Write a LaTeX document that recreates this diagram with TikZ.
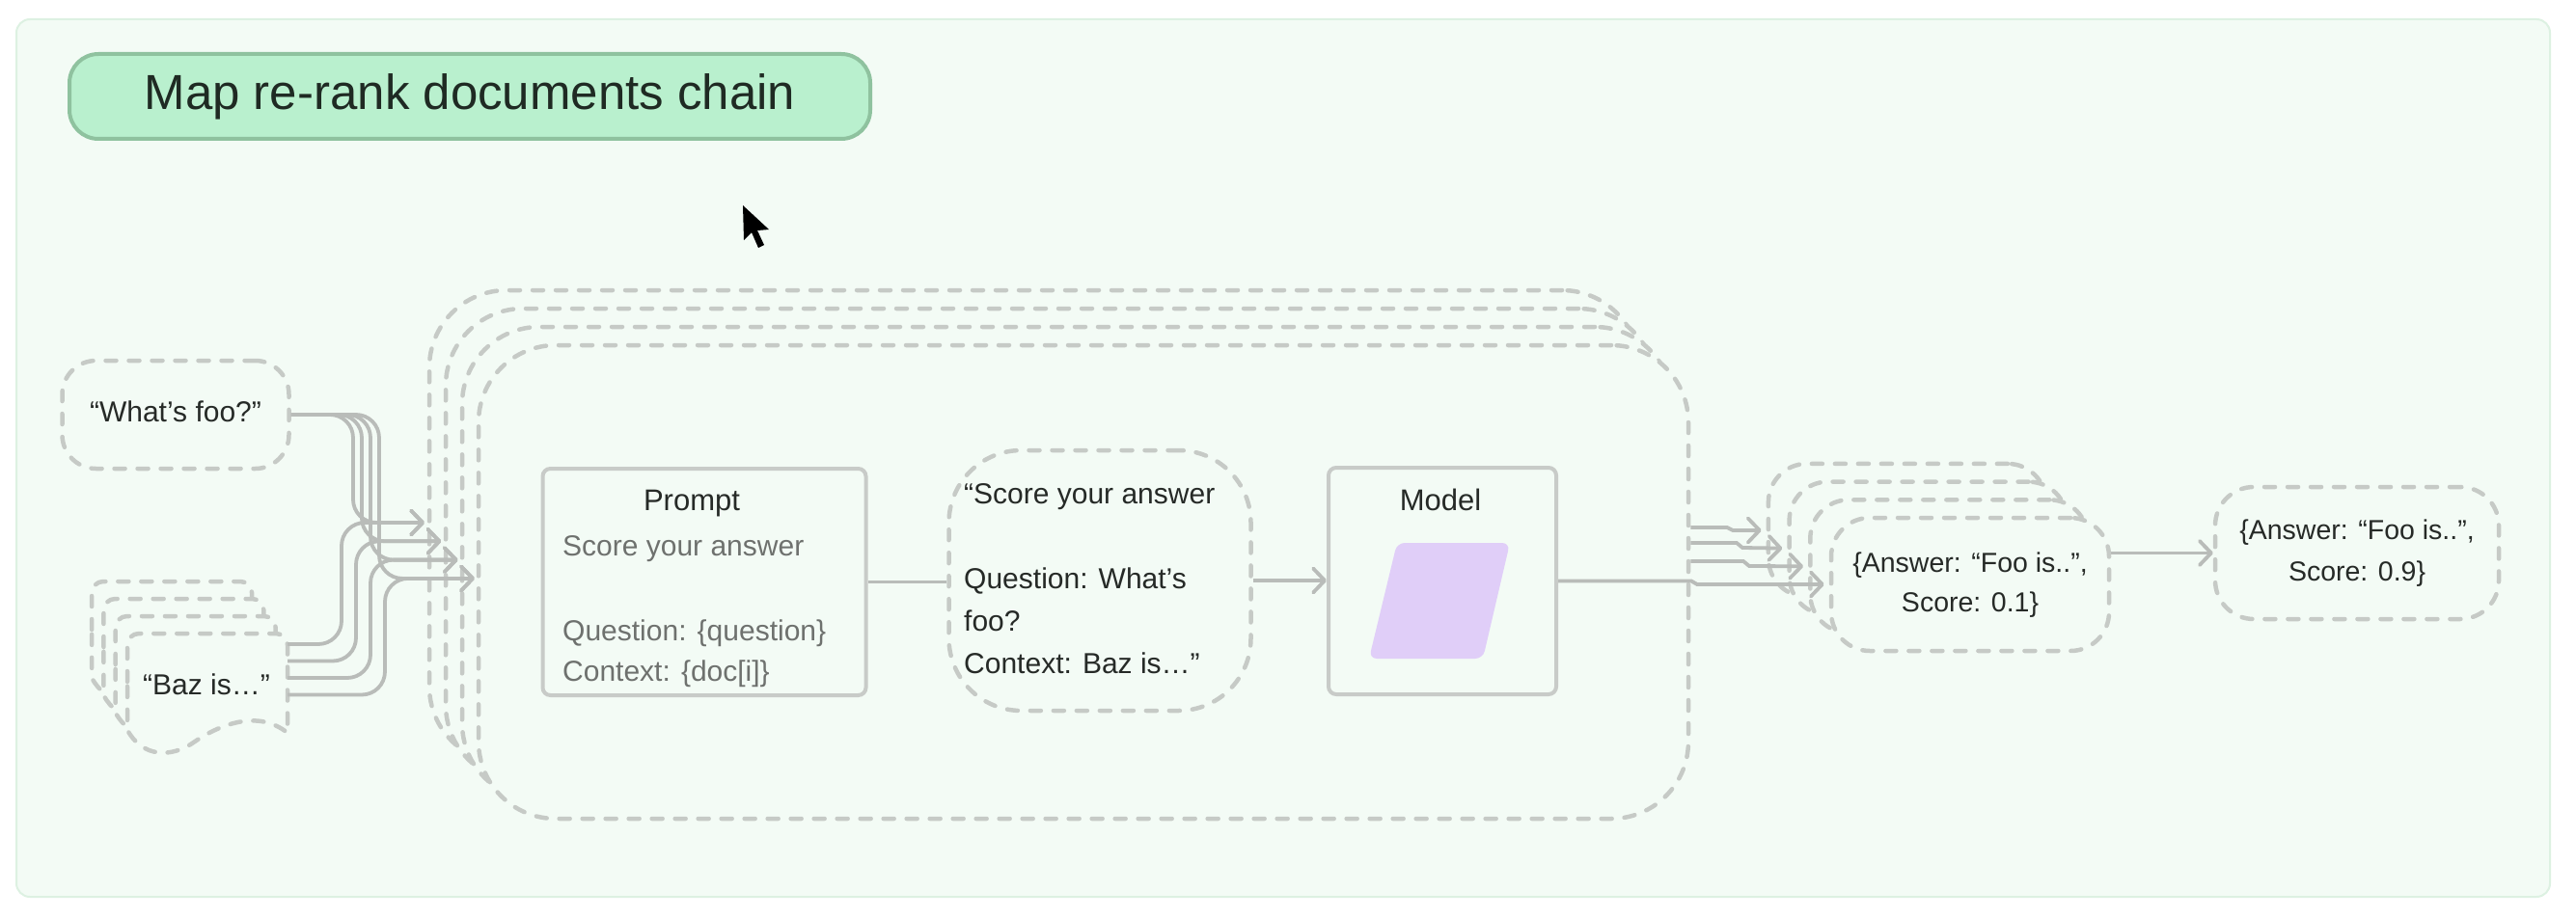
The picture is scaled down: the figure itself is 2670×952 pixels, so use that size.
\documentclass[tikz,border=0pt]{standalone}
\usepackage{fontspec}
\setmainfont{Liberation Sans}
\usetikzlibrary{arrows.meta,calc}
\definecolor{panelbg}{HTML}{F3FBF5}
\definecolor{panelbd}{HTML}{DDF1E2}
\definecolor{titlebg}{HTML}{B9F0CE}
\definecolor{titlebd}{HTML}{8FC29F}
\definecolor{titletx}{HTML}{1F2A23}
\definecolor{dashc}{HTML}{C6CAC6}
\definecolor{connc}{HTML}{B9BCB9}
\definecolor{boxc}{HTML}{C8CBC8}
\definecolor{txtdark}{HTML}{262A27}
\definecolor{txtgray}{HTML}{6E716E}
\definecolor{lav}{HTML}{E0CEF8}
\begin{document}
\begin{tikzpicture}[x=1pt,y=-1pt,
  dashbox/.style={draw=dashc, line width=4.5pt, dash pattern=on 11pt off 13pt, line cap=round, fill=panelbg, inner sep=0pt},
  solidbox/.style={draw=boxc, line width=4pt, rounded corners=8pt, fill=panelbg, inner sep=0pt},
  conn/.style={draw=connc, line width=3.8pt},
  arrowend/.style={-{Straight Barb[length=12pt,width=25pt,round]}},
  txt/.style={inner sep=0pt, text height=21pt, text depth=6pt, font=\fontsize{30pt}{36pt}\selectfont, text=txtdark},
]
\useasboundingbox (0,0) rectangle (2670,952);
\fill[white] (0,0) rectangle (2670,952);
\draw[fill=panelbg, draw=panelbd, line width=2pt, rounded corners=14pt] (17,20) rectangle (2643,930);

% title
\node[draw=titlebd, fill=titlebg, line width=4pt, rounded corners=30pt, minimum width=830pt, minimum height=88pt, inner sep=0pt,
      text=titletx, font=\fontsize{51pt}{58pt}\selectfont] (title) at (487,100) {Map re-rank documents chain};

% cursor
\fill[black] (770,213) -- (771,249) -- (779,241) -- (786,257) -- (792,254) -- (785,239) -- (797,238) -- cycle;

% loop cards
\foreach \k in {0,...,3}{
  \node[dashbox, minimum width=1254pt, minimum height=491pt, rounded corners=80pt] (L\k) at ({1123-17*(3-\k)},{603.5-19*(3-\k)}) {};
}

% prompt
\node[solidbox, minimum width=335pt, minimum height=235pt] (P) at (730,603.5) {};
\node[txt, font=\fontsize{31pt}{36pt}\selectfont] (ptitle) at (717,522) {Prompt};
\node[txt, anchor=west, text=txtgray] (p1) at (583,569) {Score your answer};
\node[txt, anchor=west, text=txtgray] (p2) at (583,657) {Question: \{question\}};
\node[txt, anchor=west, text=txtgray] (p3) at (583,699) {Context: \{doc[i]\}};

% filled prompt bubble
\node[dashbox, minimum width=313pt, minimum height=270pt, rounded corners=75pt] (S) at (1140,602) {};
\node[txt, anchor=west] (s1) at (999,515) {“Score your answer};
\node[txt, anchor=west] (s2) at (999,603) {Question: What’s};
\node[txt, anchor=west] (s3) at (999,647) {foo?};
\node[txt, anchor=west] (s4) at (999,691) {Context: Baz is…”};

% model
\node[solidbox, minimum width=236pt, minimum height=235pt] (M) at (1495,602.5) {};
\node[txt, font=\fontsize{31pt}{36pt}\selectfont] (mtitle) at (1493,522) {Model};
\fill[lav, rounded corners=8pt] (1506,563) -- (1565,563) -- (1537,683) -- (1419,683) -- (1448,563) -- cycle;

\draw[conn] (P.east) -- (P.east -| S.west);
\draw[conn, arrowend] (S.east) -- (S.east -| M.west);

% question box
\node[dashbox, minimum width=235pt, minimum height=112pt, rounded corners=35pt, txt] (Q) at (182,430) {“What’s foo?”};

% document stack
\foreach \j in {0,...,3}{
  \begin{scope}[shift={({132-12.3*(3-\j)},{657-18*(3-\j)})}]
    \path[dashbox, rounded corners=12pt] (0,50) -- (0,0) -- (166,0) -- (166,50) [sharp corners] -- (166,103)
       .. controls (135,78) and (95,95) .. (70,112) .. controls (45,130) and (15,128) .. (0,100) -- cycle;
  \end{scope}
}
\node[txt] (baz) at (214,713) {“Baz is…”};
\coordinate (bz) at (298,657);

% connectors into the loop
\foreach \k in {0,...,3}{
  \coordinate (T\k) at ({440+17.3*\k},{542+19.3*\k});
}
\foreach \k in {0,...,3}{
  \draw[conn, rounded corners=24pt, arrowend] ($(bz)+(0,{11+17.5*\k})$) -- ({354+15*\k},{668+17.5*\k}) |- (T\k);
  \draw[conn, rounded corners=24pt, arrowend] (Q.east) -- ({366+9*\k},430) |- (T\k);
}

% answer cards
\foreach \k in {0,...,3}{
  \node[dashbox, minimum width=288pt, minimum height=138pt, rounded corners=40pt] (A\k) at ({2042-21.7*(3-\k)},{606-18.7*(3-\k)}) {};
}
\node[inner sep=0pt, align=center, text=txtdark, font=\fontsize{28.5pt}{41pt}\selectfont] (atext) at (2042,607) {\{Answer: “Foo is..”,\\Score: 0.1\}};
\foreach \k in {0,...,3}{
  \coordinate (R\k) at ($(A\k.west)+(-5,0)$);
}
\draw[conn, arrowend] (L3.east |- 0,547) -- (1790,547) -- (1796,550) -- (R0);
\draw[conn, arrowend] (L3.east |- 0,563) -- (1800,563) -- (1806,568) -- (R1);
\draw[conn, arrowend] (L3.east |- 0,582) -- (1807,582) -- (1813,587) -- (R2);
\draw[conn, arrowend] (M.east) -- (1753,602.5) -- (1759,606) -- (R3);

% final
\node[dashbox, minimum width=294pt, minimum height=137pt, rounded corners=40pt, align=center, text=txtdark,
      font=\fontsize{28.5pt}{43pt}\selectfont] (F) at (2443,573.5) {\{Answer: “Foo is..”,\\Score: 0.9\}};
\draw[conn, arrowend] (A3.east |- F.west) -- (F.west);
\end{tikzpicture}
\end{document}
